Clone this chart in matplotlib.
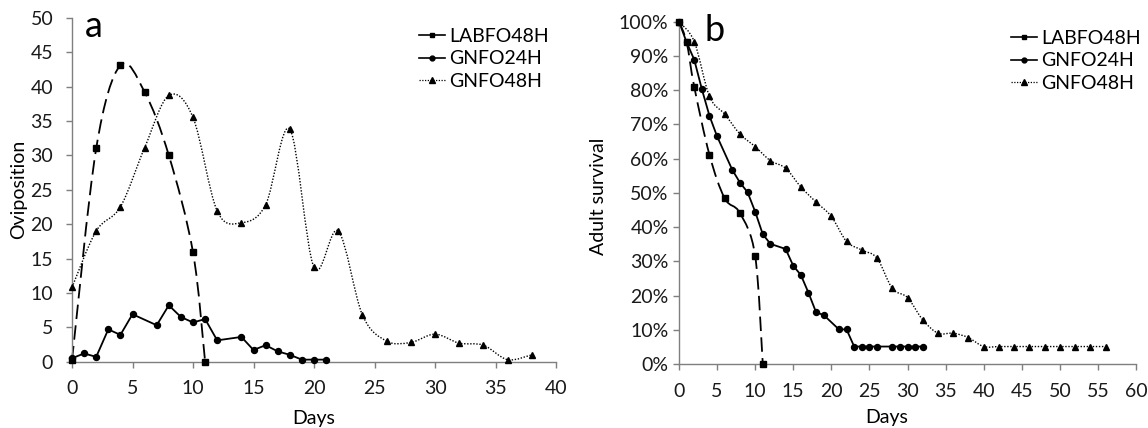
import numpy as np
import matplotlib
matplotlib.use("Agg")
import matplotlib.pyplot as plt
from matplotlib.path import Path
from matplotlib.patches import PathPatch
from matplotlib.lines import Line2D
from matplotlib.ticker import MultipleLocator, PercentFormatter

plt.rcParams['font.family'] = ['Lato', 'DejaVu Sans']

# ---------------- data: panel a (oviposition) ----------------
lab_a_days = [0, 2, 4, 6, 8, 10, 11]
lab_a_vals = [0.2, 31.0, 43.1, 39.2, 30.0, 15.9, 0.0]

gn24_a_days = [0, 1, 2, 3, 4, 5, 7, 8, 9, 10, 11, 12, 14, 15, 16, 17, 18, 19, 20, 21]
gn24_a_vals = [0.5, 1.2, 0.7, 4.7, 3.9, 6.9, 5.3, 8.2, 6.5, 5.7, 6.2, 3.1, 3.6, 1.7,
               2.4, 1.5, 1.0, 0.3, 0.3, 0.3]

gn48_a_days = [0, 2, 4, 6, 8, 10, 12, 14, 16, 18, 20, 22, 24, 26, 28, 30, 32, 34, 36, 38]
gn48_a_vals = [10.8, 19.0, 22.5, 31.1, 38.7, 35.5, 21.9, 20.2, 22.8, 33.8, 13.7, 19.0,
               6.8, 3.0, 2.8, 4.0, 2.7, 2.4, 0.3, 1.0]

# ---------------- data: panel b (adult survival, fraction) ----------------
lab_b_days = [0, 1, 2, 4, 6, 8, 10, 11]
lab_b_vals = [1.00, 0.94, 0.81, 0.611, 0.484, 0.441, 0.316, 0.0]

gn24_b_days = [0, 1, 2, 3, 4, 5, 7, 8, 9, 10, 11, 12, 14, 15, 16, 17, 18, 19, 21, 22,
               23, 24, 25, 26, 28, 29, 30, 31, 32]
gn24_b_vals = [1.00, 0.94, 0.889, 0.803, 0.725, 0.665, 0.567, 0.530, 0.502, 0.445,
               0.379, 0.351, 0.336, 0.287, 0.260, 0.208, 0.151, 0.143, 0.101, 0.101,
               0.051, 0.051, 0.051, 0.051, 0.051, 0.051, 0.051, 0.051, 0.051]

gn48_b_days = [0, 2, 4, 6, 8, 10, 12, 14, 16, 18, 20, 22, 24, 26, 28, 30, 32, 34, 36,
               38, 40, 42, 44, 46, 48, 50, 52, 54, 56]
gn48_b_vals = [1.00, 0.942, 0.782, 0.730, 0.672, 0.635, 0.594, 0.572, 0.517, 0.473,
               0.431, 0.358, 0.333, 0.309, 0.221, 0.194, 0.129, 0.090, 0.090, 0.077,
               0.051, 0.051, 0.051, 0.051, 0.051, 0.051, 0.051, 0.051, 0.051]

series_names = ['LABFO48H', 'GNFO24H', 'GNFO48H']

GREY = '#7f7f7f'
DASH = (0, (8, 3.5))
DOT = (0, (1, 1.2))
FS = 14


def smooth_path(x, y):
    """Catmull-Rom style Bezier path through the data points."""
    x = np.asarray(x, float)
    y = np.asarray(y, float)
    n = len(x)
    verts = [(x[0], y[0])]
    codes = [Path.MOVETO]
    for i in range(n - 1):
        p0 = np.array([x[max(i - 1, 0)], y[max(i - 1, 0)]])
        p1 = np.array([x[i], y[i]])
        p2 = np.array([x[i + 1], y[i + 1]])
        p3 = np.array([x[min(i + 2, n - 1)], y[min(i + 2, n - 1)]])
        c1 = p1 + (p2 - p0) / 6.0
        c2 = p2 - (p3 - p1) / 6.0
        verts += [tuple(c1), tuple(c2), tuple(p2)]
        codes += [Path.CURVE4] * 3
    return Path(verts, codes)


def draw_series(ax, x, y, marker, ms, ls, lw, smooth):
    if smooth:
        patch = PathPatch(smooth_path(x, y), fill=False, edgecolor='black',
                          linewidth=lw, linestyle=ls, transform=ax.transData,
                          clip_on=False)
        ax.add_patch(patch)
    else:
        ax.plot(x, y, color='black', lw=lw, linestyle=ls, clip_on=False)
    ax.plot(x, y, linestyle='none', marker=marker, ms=ms, color='black',
            clip_on=False, zorder=5)


def style_axes(ax):
    for s in ['top', 'right']:
        ax.spines[s].set_visible(False)
    for s in ['left', 'bottom']:
        ax.spines[s].set_color(GREY)
        ax.spines[s].set_linewidth(1.0)
    ax.tick_params(direction='out', length=4.5, width=1.0, color=GREY,
                   labelsize=FS, labelcolor='#1a1a1a')


def add_legend(ax, bbox):
    handles = [
        Line2D([], [], color='black', lw=1.2, marker='s', ms=3.5),
        Line2D([], [], color='black', lw=1.2, marker='o', ms=3.5),
        Line2D([], [], color='black', lw=0.9, linestyle=DOT, marker='^', ms=4),
    ]
    ax.legend(handles, series_names, loc='upper left', bbox_to_anchor=bbox,
              bbox_transform=ax.figure.transFigure, frameon=False,
              fontsize=FS, handlelength=1.35, handletextpad=0.2,
              labelspacing=0.28, borderpad=0, borderaxespad=0)


fig = plt.figure(figsize=(11.48, 4.28), dpi=100)

# ---------------- panel a ----------------
axa = fig.add_axes([72 / 1148, 1 - 361.7 / 428, 484 / 1148, 344 / 428])
draw_series(axa, lab_a_days, lab_a_vals, 's', 4.3, DASH, 1.3, True)
draw_series(axa, gn24_a_days, gn24_a_vals, 'o', 4.3, '-', 1.3, False)
draw_series(axa, gn48_a_days, gn48_a_vals, '^', 4.8, DOT, 1.0, True)
axa.set_xlim(0, 40)
axa.set_ylim(0, 50)
axa.xaxis.set_major_locator(MultipleLocator(5))
axa.yaxis.set_major_locator(MultipleLocator(5))
style_axes(axa)
axa.tick_params(axis='y', pad=9)
axa.tick_params(axis='x', pad=9)
axa.set_xlabel('Days', fontsize=FS)
axa.set_ylabel('Oviposition', fontsize=FS)
axa.xaxis.set_label_coords(0.5, -0.14)
axa.yaxis.set_label_coords(-0.093, 0.5)
axa.text(0.027, 0.975, 'a', transform=axa.transAxes, fontsize=26,
         ha='left', va='center')
add_legend(axa, (419 / 1148, 1 - 28 / 428))

# ---------------- panel b ----------------
axb = fig.add_axes([679 / 1148, 1 - 364 / 428, 457 / 1148, 342.3 / 428])
draw_series(axb, lab_b_days, lab_b_vals, 's', 4.3, DASH, 1.3, True)
draw_series(axb, gn24_b_days, gn24_b_vals, 'o', 4.3, '-', 1.3, False)
draw_series(axb, gn48_b_days, gn48_b_vals, '^', 4.8, DOT, 1.0, True)
axb.set_xlim(0, 60)
axb.set_ylim(0, 1.0)
axb.xaxis.set_major_locator(MultipleLocator(5))
axb.yaxis.set_major_locator(MultipleLocator(0.1))
axb.yaxis.set_major_formatter(PercentFormatter(1.0, decimals=0))
style_axes(axb)
axb.tick_params(axis='y', pad=3)
axb.tick_params(axis='x', pad=9)
axb.set_xlabel('Days', fontsize=FS)
axb.set_ylabel('Adult survival', fontsize=FS)
axb.xaxis.set_label_coords(0.455, -0.132)
axb.yaxis.set_label_coords(-0.158, 0.49)
axb.text(0.055, 0.975, 'b', transform=axb.transAxes, fontsize=26,
         ha='left', va='center')
add_legend(axb, (1011 / 1148, 1 - 30 / 428))

fig.savefig('out.png', dpi=100)
